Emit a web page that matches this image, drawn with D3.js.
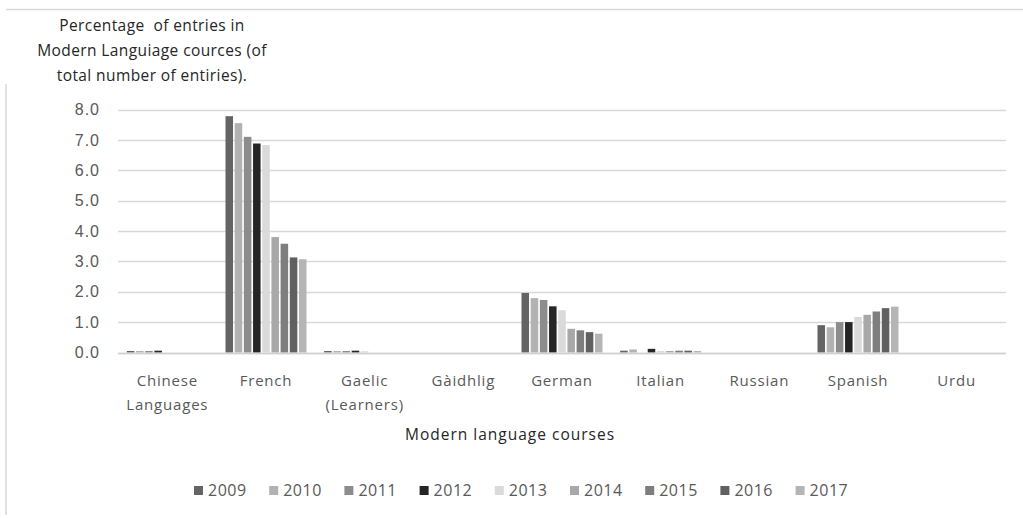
<!DOCTYPE html>
<html>
<head>
<meta charset="utf-8">
<script src="https://cdn.jsdelivr.net/npm/d3@7"></script>
<style>
  body { margin: 0; background: #fff; }
  svg { display: block; font-family: "Open Sans", "Noto Sans", sans-serif; }
</style>
</head>
<body>
<svg id="chart" width="1023" height="518"></svg>
<script>
// courses along the x axis
const courses = ["Chinese Languages", "French", "Gaelic (Learners)", "Gàidhlig", "German",
    "Italian", "Russian", "Spanish", "Urdu"];
const years = ["2009", "2010", "2011", "2012", "2013", "2014", "2015", "2016", "2017"];
const yearColors = ["#646464", "#b2b2b2", "#8c8c8c", "#252525", "#dadada",
    "#a8a8a8", "#7e7e7e", "#606060", "#b5b5b5"];

// percentage of entries, one array per course, values by year 2009..2017
const chinese = [0.05, 0.05, 0.05, 0.06, 0, 0, 0, 0, 0];
const french = [7.78, 7.55, 7.1, 6.88, 6.83, 3.8, 3.58, 3.13, 3.07];
const gaelic = [0.05, 0.05, 0.05, 0.06, 0.04, 0, 0, 0, 0];
const gaidhlig = [0, 0, 0, 0, 0, 0, 0, 0, 0];
const german = [1.96, 1.79, 1.73, 1.52, 1.39, 0.78, 0.73, 0.67, 0.62];
const italian = [0.06, 0.1, 0, 0.12, 0.05, 0.05, 0.06, 0.06, 0.05];
const russian = [0, 0, 0, 0, 0, 0, 0, 0, 0];
const spanish = [0.9, 0.83, 1.0, 1.0, 1.17, 1.24, 1.35, 1.46, 1.51];
const urdu = [0, 0, 0, 0, 0, 0, 0, 0, 0];
const yTicks = [0, 1, 2, 3, 4, 5, 6, 7, 8];

const values = [chinese, french, gaelic, gaidhlig, german, italian, russian, spanish, urdu];

const svg = d3.select("#chart");
const plotLeft = 118, plotRight = 1006, plotTop = 109.5, plotBottom = 352.5;
const textColor = "#595959";

// chart area border (only top and left edges visible in the picture)
svg.append("path")
    .attr("d", "M6,515V84M6,9.5H1023")
    .attr("fill", "none")
    .attr("stroke", "#d9d9d9")
    .attr("stroke-width", 1.5);

const x = d3.scaleBand().domain(courses).range([plotLeft, plotRight]);
const y = d3.scaleLinear().domain([0, 8]).range([plotBottom, plotTop]);
const xInner = d3.scaleBand().domain(years).range([0, 81]).paddingInner(0.18).paddingOuter(0);

// gridlines
svg.append("g")
    .selectAll("line")
    .data(yTicks)
    .join("line")
    .attr("x1", plotLeft)
    .attr("x2", plotRight)
    .attr("y1", d => Math.round(y(d)) + 0.5)
    .attr("y2", d => Math.round(y(d)) + 0.5)
    .attr("stroke", "#d9d9d9")
    .attr("stroke-width", 1.3);

// y axis labels
const yAxis = svg.append("g")
    .attr("transform", "translate(" + plotLeft + ",0)")
    .call(d3.axisLeft(y).tickValues(yTicks).tickFormat(d3.format(".1f")).tickSize(0).tickPadding(18));
yAxis.select(".domain").remove();
yAxis.selectAll("text")
    .attr("fill", textColor)
    .style("font-size", "16px")
    .style("letter-spacing", "1px");

// bars
const groups = svg.append("g")
    .selectAll("g")
    .data(courses)
    .join("g")
    .attr("transform", d => "translate(" + (x(d) + x.bandwidth() / 2 - 40.5) + ",0)");

groups.selectAll("rect")
    .data((d, i) => values[i].map((v, j) => ({year: years[j], value: v, color: yearColors[j]})))
    .join("rect")
    .attr("x", d => xInner(d.year))
    .attr("width", xInner.bandwidth())
    .attr("y", d => y(d.value))
    .attr("height", d => y(0) - y(d.value))
    .attr("fill", d => d.color);

// x axis line drawn over the bars
svg.append("line")
    .attr("x1", plotLeft)
    .attr("x2", plotRight)
    .attr("y1", Math.round(y(0)) + 0.5)
    .attr("y2", Math.round(y(0)) + 0.5)
    .attr("stroke", "#d0d0d0")
    .attr("stroke-width", 1.3);

// category labels, wrapped on the space like the original
const catLabels = svg.append("g")
    .selectAll("text")
    .data(courses)
    .join("text")
    .attr("x", d => x(d) + x.bandwidth() / 2)
    .attr("y", 386)
    .attr("text-anchor", "middle")
    .attr("fill", textColor)
    .style("font-size", "15px")
    .style("letter-spacing", "0.8px");

catLabels.each(function (d) {
    const words = d.split(" ");
    d3.select(this).selectAll("tspan")
        .data(words)
        .join("tspan")
        .attr("x", x(d) + x.bandwidth() / 2)
        .attr("dy", (w, i) => i === 0 ? 0 : 23.5)
        .text(w => w);
});

// axis titles
svg.append("text")
    .attr("x", 510)
    .attr("y", 440)
    .attr("text-anchor", "middle")
    .attr("fill", "#262626")
    .style("font-size", "15.5px")
    .style("letter-spacing", "1px")
    .text("Modern language courses");

const yTitle = ["Percentage  of entries in", "Modern Languiage cources (of", "total number of entiries)."];
svg.append("text")
    .attr("text-anchor", "middle")
    .attr("fill", "#262626")
    .style("font-size", "15.5px")
    .style("letter-spacing", "0.4px")
    .style("white-space", "pre")
    .selectAll("tspan")
    .data(yTitle)
    .join("tspan")
    .attr("x", 152)
    .attr("y", (d, i) => 31 + i * 25)
    .text(d => d);

// legend
const legend = svg.append("g")
    .selectAll("g")
    .data(years)
    .join("g")
    .attr("transform", (d, i) => "translate(" + (194 + i * 75.2) + ",490.5)");

legend.append("rect")
    .attr("x", 0)
    .attr("y", -4.5)
    .attr("width", 9)
    .attr("height", 9)
    .attr("fill", (d, i) => yearColors[i]);

legend.append("text")
    .attr("x", 14)
    .attr("y", 5.5)
    .attr("fill", textColor)
    .style("font-size", "16px")
    .style("letter-spacing", "0.5px")
    .text(d => d);
</script>
</body>
</html>
